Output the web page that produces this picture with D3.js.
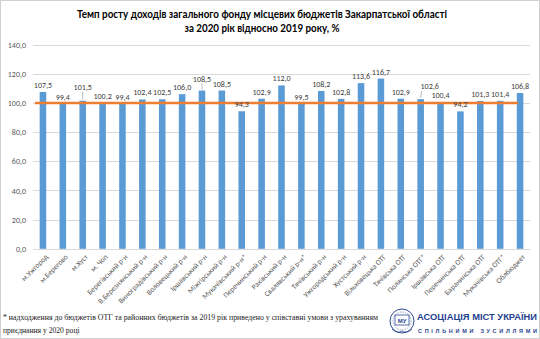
<!DOCTYPE html>
<html><head><meta charset="utf-8">
<script src="https://cdn.jsdelivr.net/npm/d3@7"></script>
<style>
html,body{margin:0;padding:0;background:#fff;}
svg{display:block;}
</style></head>
<body>
<script>
const categories = ["м.Ужгород","м.Берегово","м.Хуст","м. Чоп","Берегівський р-н","В.Березнянський р-н","Виноградівський р-н","Воловецький р-н","Іршавський р-н","Міжгірський р-н","Мукачівський р-н*","Перечинський р-н","Рахівський р-н","Свалявський р-н*","Тячівський р-н","Ужгородський р-н","Хустський р-н","Вільховецька ОТГ","Тячівська ОТГ","Полянська ОТГ*","Іршавська ОТГ","Перечинська ОТГ","Баранинська ОТГ","Мукачівська ОТГ*","Облбюджет"];
const values = [107.5,99.4,101.5,100.2,99.4,102.4,102.5,106.0,108.5,108.5,94.3,102.9,112.0,99.5,108.2,102.8,113.6,116.7,102.9,102.6,100.4,94.2,101.3,101.4,106.8];
const baseline = 100;
const yTicks = [0,20,40,60,80,100,120,140];
const titleLines = ["Темп росту доходів загального фонду місцевих бюджетів Закарпатської області","за 2020 рік відносно 2019 року, %"];
const footnoteLines = ["* надходження до бюджетів ОТГ та районних бюджетів за 2019 рік приведено у співставні умови з урахуванням","приєднання у 2020 році"];

const W = 540, H = 339;
const fmt = v => v.toFixed(1).replace(".", ",");
const svg = d3.select("body").append("svg").attr("width", W).attr("height", H);
svg.append("rect").attr("x",0.5).attr("y",0.5).attr("width",W-1).attr("height",H-1).attr("fill","#fff").attr("stroke","#d0d0d0");

const x = d3.scaleBand().domain(categories).range([33,530]).paddingInner(0.67).paddingOuter(0.335);
const y = d3.scaleLinear().domain([0,140]).range([248.8,44.6]);

// title
const titleWidths = [370, 155];
svg.append("g").selectAll("text").data(titleLines).join("text")
  .attr("x", 262).attr("y",(d,i)=>18+i*14).attr("text-anchor","middle")
  .attr("font-family","Lato, 'Open Sans', sans-serif").attr("font-weight","bold").attr("font-size",10.5).attr("fill","#000")
  .attr("textLength",(d,i)=>titleWidths[i]).attr("lengthAdjust","spacingAndGlyphs")
  .text(d=>d);

// grid
svg.append("g").selectAll("line").data(yTicks.filter(t=>t>0)).join("line")
  .attr("x1",33).attr("x2",530).attr("y1",d=>Math.round(y(d))+0.5).attr("y2",d=>Math.round(y(d))+0.5)
  .attr("stroke","#d9d9d9").attr("stroke-width",1);

// y axis labels
const yAxis = d3.axisLeft(y).tickValues(yTicks).tickFormat(fmt).tickSize(0).tickPadding(4);
const ga = svg.append("g").attr("transform","translate(30,0)").call(yAxis);
ga.select(".domain").remove();
ga.selectAll("text").attr("font-family","Calibri, Carlito, 'Liberation Sans', sans-serif").attr("font-size",8).attr("fill","#595959");

// bars
svg.append("g").selectAll("rect").data(values).join("rect")
  .attr("x",(d,i)=>x(categories[i])).attr("width",x.bandwidth())
  .attr("y",d=>y(d)).attr("height",d=>y(0)-y(d)).attr("fill","#5B9BD5");

// x axis line
svg.append("line").attr("x1",33).attr("x2",530).attr("y1",Math.round(y(0))+0.5).attr("y2",Math.round(y(0))+0.5).attr("stroke","#d9d9d9");

// baseline 100 line
const cx = i => x(categories[i]) + x.bandwidth()/2;
svg.append("line").attr("x1",cx(0)-8).attr("x2",cx(categories.length-1)-2)
  .attr("y1",y(baseline)).attr("y2",y(baseline)).attr("stroke","#ED7D31").attr("stroke-width",2.5);

// value labels (some nudged with leader lines)
const labelNudge = {2:[0,-7],8:[0,-5],19:[9,-6]};
const lg = svg.append("g");
values.forEach((v,i)=>{
  const n = labelNudge[i] || [0,0];
  const bx = cx(i), top = y(v);
  const lx = bx + n[0], ly = top - 4 + n[1];
  if (labelNudge[i]) {
    lg.append("line").attr("x1",lx - n[0]*0.9).attr("y1",ly+2).attr("x2",bx).attr("y2",top-1)
      .attr("stroke","#a6a6a6").attr("stroke-width",0.8);
  }
  lg.append("text").attr("x",lx).attr("y",ly).attr("text-anchor","middle")
    .attr("font-family","Calibri, Carlito, 'Liberation Sans', sans-serif").attr("font-size",8).attr("fill","#404040")
    .text(fmt(v));
});

// category labels
svg.append("g").selectAll("text").data(categories).join("text")
  .attr("transform",(d,i)=>`translate(${cx(i)+4},${y(0)+7}) rotate(-45)`)
  .attr("text-anchor","end").attr("dy","0.3em")
  .attr("font-family","Calibri, Carlito, 'Liberation Sans', sans-serif").attr("font-size",7.5).attr("fill","#595959")
  .text(d=>d);

// footnote
const footWidths = [375, null];
svg.append("g").selectAll("text").data(footnoteLines).join("text")
  .attr("x",3).attr("y",(d,i)=>320+i*12.5)
  .attr("font-family","'Liberation Serif', 'DejaVu Serif', serif").attr("font-size",7.6).attr("fill","#222")
  .each(function(d,i){ if (footWidths[i]) d3.select(this).attr("textLength",footWidths[i]).attr("lengthAdjust","spacingAndGlyphs"); })
  .text(d=>d);

// logo
const logo = svg.append("g").attr("transform","translate(402,321)");
logo.append("circle").attr("r",12).attr("fill","none").attr("stroke","#2b4a8f").attr("stroke-width",1);
logo.append("circle").attr("r",9).attr("fill","none").attr("stroke","#7f93bf").attr("stroke-width",0.8).attr("stroke-dasharray","1.5,1");
logo.append("rect").attr("x",-7).attr("y",-6).attr("width",14).attr("height",10).attr("fill","#fff").attr("stroke","#2b4a8f").attr("stroke-width",0.8);
logo.append("text").attr("x",0).attr("y",2).attr("text-anchor","middle").attr("font-family","'Liberation Sans', sans-serif").attr("font-weight","bold").attr("font-size",6).attr("fill","#2b4a8f").text("МУ");
logo.append("path").attr("d","M-10,8 Q-5,13 0,10 Q5,13 10,8").attr("fill","none").attr("stroke","#2b4a8f").attr("stroke-width",0.8);
svg.append("text").attr("x",417).attr("y",320).attr("font-family","'Liberation Sans', Arial, sans-serif").attr("font-weight","bold")
  .attr("font-size",9.5).attr("fill","#1f3f8f").attr("textLength",120).attr("lengthAdjust","spacingAndGlyphs").text("АСОЦІАЦІЯ МІСТ УКРАЇНИ");
svg.append("text").attr("x",418).attr("y",333).attr("font-family","'Liberation Sans', Arial, sans-serif").attr("font-weight","bold")
  .attr("font-size",5.5).attr("fill","#1f3f8f").attr("textLength",119).attr("lengthAdjust","spacing").text("СПІЛЬНИМИ ЗУСИЛЛЯМИ");
</script>
</body></html>
